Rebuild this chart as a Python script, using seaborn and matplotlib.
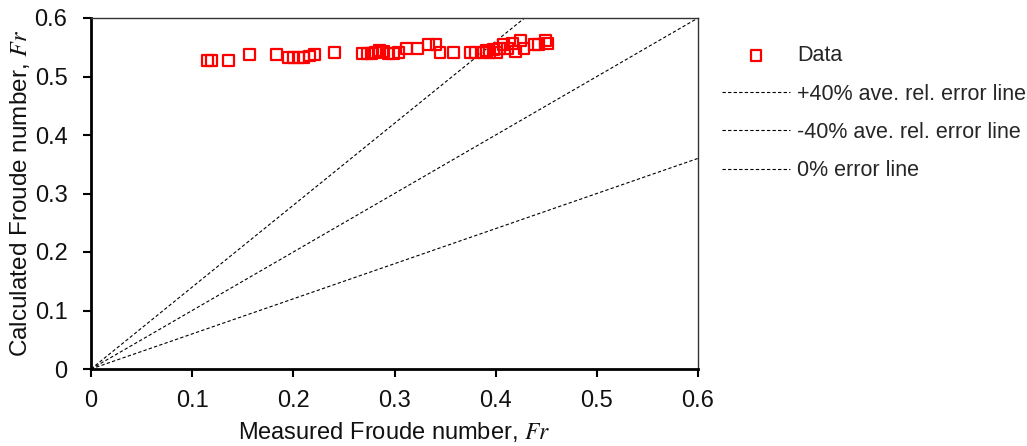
import matplotlib
matplotlib.use("Agg")
import matplotlib.pyplot as plt
import seaborn as sns
import numpy as np
import pandas as pd

# Data
measured_fr = [0.115, 0.119, 0.136, 0.157, 0.183, 0.195, 0.200, 0.205, 0.210, 0.216,
               0.221, 0.241, 0.268, 0.273, 0.277, 0.281, 0.285, 0.289, 0.294, 0.299,
               0.304, 0.312, 0.323, 0.334, 0.341, 0.345, 0.358, 0.375, 0.380, 0.388,
               0.391, 0.394, 0.398, 0.401, 0.404, 0.408, 0.412, 0.417, 0.420, 0.425,
               0.428, 0.438, 0.442, 0.449, 0.451]
calculated_fr = [0.528, 0.528, 0.527, 0.537, 0.537, 0.532, 0.532, 0.532, 0.532, 0.535,
                 0.537, 0.541, 0.539, 0.539, 0.539, 0.541, 0.544, 0.543, 0.540, 0.540,
                 0.541, 0.548, 0.548, 0.555, 0.555, 0.541, 0.541, 0.541, 0.541, 0.541,
                 0.544, 0.541, 0.546, 0.541, 0.548, 0.555, 0.548, 0.556, 0.543, 0.562,
                 0.548, 0.555, 0.555, 0.562, 0.556]

ref_x = [0.0, 0.6]
ref_labels = ["+40% ave. rel. error line", "-40% ave. rel. error line", "0% error line"]
ref_slopes = [1.4, 0.6, 1.0]

x_ticks = [0, 0.1, 0.2, 0.3, 0.4, 0.5, 0.6]
tick_labels = ["0", "0.1", "0.2", "0.3", "0.4", "0.5", "0.6"]

sns.set_style("ticks")
plt.rcParams["font.family"] = ["Liberation Sans", "DejaVu Sans"]
plt.rcParams["mathtext.fontset"] = "stix"

fig = plt.figure(figsize=(10.27, 4.46), dpi=100)
ax = fig.add_axes([91/1027, 1 - 369/446, (698 - 91)/1027, (369 - 18)/446])

df = pd.DataFrame({"x": measured_fr, "y": calculated_fr})
sns.scatterplot(data=df, x="x", y="y", ax=ax, marker="s", s=62,
                facecolor="none", edgecolor="#ff0000", linewidth=1.6,
                label="Data", zorder=3)

for lab, k in zip(ref_labels, ref_slopes):
    ldf = pd.DataFrame({"x": ref_x, "y": [k * v for v in ref_x]})
    sns.lineplot(data=ldf, x="x", y="y", ax=ax, color="black", linewidth=0.8,
                 linestyle=(0, (3, 2)), label=lab)

ax.set_xlim(0, 0.6)
ax.set_ylim(0, 0.6)
ax.set_xticks(x_ticks)
ax.set_xticklabels(tick_labels)
ax.set_yticks(x_ticks)
ax.set_yticklabels(tick_labels)
ax.tick_params(axis="both", labelsize=17, direction="out", length=6, width=1.5,
               color="black", labelcolor="#111111")
ax.tick_params(axis="x", pad=9)
ax.tick_params(axis="y", pad=11)

for s in ["left", "bottom"]:
    ax.spines[s].set_linewidth(2.0)
    ax.spines[s].set_color("black")
for s in ["top", "right"]:
    ax.spines[s].set_linewidth(1.0)
    ax.spines[s].set_color("#333333")

ax.set_xlabel("Measured Froude number, $Fr$", fontsize=17, labelpad=6, color="#111111")
ax.set_ylabel("Calculated Froude number, $Fr$", fontsize=17.5, labelpad=2, color="#111111")

handles, labels = ax.get_legend_handles_labels()
ax.get_legend().remove()
fig.legend(handles, labels, loc="upper left", bbox_to_anchor=(0.703, 0.898),
           frameon=False, fontsize=15.5, handlelength=3.16, handletextpad=0.33,
           labelspacing=0.8, borderpad=0, borderaxespad=0)

fig.savefig("out.png", dpi=100)
